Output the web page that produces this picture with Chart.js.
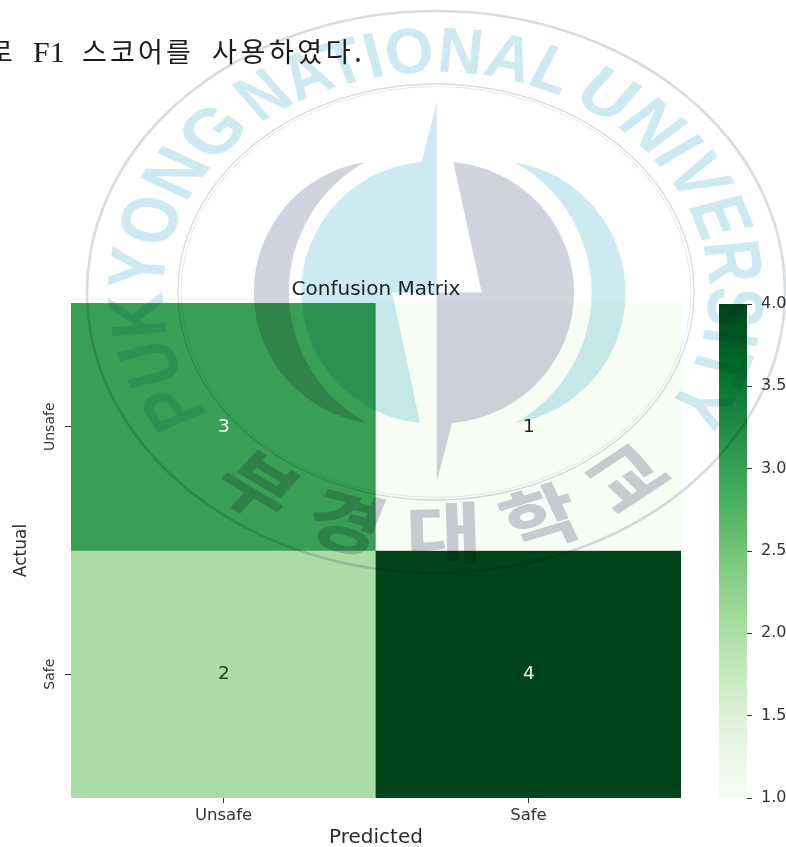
<!DOCTYPE html>
<html lang="ko"><head><meta charset="utf-8">
<style>
html,body{margin:0;padding:0;background:#fff;width:786px;height:847px;overflow:hidden}
#page{position:relative;width:786px;height:847px;overflow:hidden;isolation:isolate;background:#fff}
canvas{position:absolute}
#main{left:0;top:0}
#bar{left:700px;top:280px}
#wm{position:absolute;left:0;top:0;mix-blend-mode:multiply;pointer-events:none}
#line span{position:absolute;white-space:nowrap;top:35px;font:27px/32px "Noto Sans CJK KR";color:#1a1a1a}
#line span.f{font:30px/32px "Liberation Serif"}
</style></head>
<body><div id="page">
<canvas id="main" width="786" height="847"></canvas>
<canvas id="bar" width="86" height="540"></canvas>
<div id="line">
<span style="left:-12px">로</span><span class="f" style="left:33px;top:36px">F1</span>
<span style="left:82px;letter-spacing:3.2px">스코어를</span><span style="left:212px;letter-spacing:3.6px">사용하였다.</span>
</div>
<svg id="wm" width="786" height="847" xmlns="http://www.w3.org/2000/svg">
 <g fill="none" stroke="#d8dae4">
  <ellipse cx="436" cy="292" rx="349" ry="281" stroke-width="2.6"/>
  <ellipse cx="436" cy="292" rx="258" ry="208" stroke-width="1.3"/>
  <ellipse cx="436" cy="292" rx="255" ry="205.5" stroke-width=".6"/>
 </g>
 <path fill="#cdeaf2" d="M436.7,103 L436.7,292.5 L392,292.5 L420,423 A131,131 0 0 1 421.7,162 Z"/>
 <path fill="#d1d3de" d="M453.3,162 A133,131 0 0 1 452,423 L436.7,482 L436.7,292.5 L481.7,292.5 Z"/>
 <path fill="#d1d3de" d="M365,162 A132,132 0 0 0 367,423 A149,149 0 0 1 365,162 Z"/>
 <path fill="#cdeaf2" d="M515,162.5 A132,132 0 0 1 515,423 A149,149 0 0 0 515,162.5 Z"/>
 <g id="arcs" transform="translate(436 292) scale(1.24 1)"></g>
</svg>
</div>
<script src="https://cdn.jsdelivr.net/npm/chart.js@4"></script>
<script>
const predictedLabels = ['Unsafe','Safe'];
const actualLabels = ['Unsafe','Safe'];
const rowUnsafe = [3,1];
const rowSafe = [2,4];
const cellColorsUnsafe = ['#389f55','#f7fcf5'];
const cellColorsSafe = ['#abdca6','#00441b'];
const textColorsUnsafe = ['#f1faee','#262626'];
const textColorsSafe = ['#1f4a24','#e6f5e1'];
const cellSpan = [1,1];
const colorTicks = [1.0,1.5,2.0,2.5,3.0,3.5,4.0];
const colorRange = [1,4];
const greens = ['#f7fcf5','#e5f5e0','#c7e9c0','#a1d99b','#74c476','#41ab5d','#238b45','#006d2c','#00441b'];
const titleText = 'Confusion Matrix';
const xTitle = 'Predicted';
const yTitle = 'Actual';

const F = '"DejaVu Sans"';

const cellValues = {
  id:'cellValues',
  afterDatasetsDraw(chart){
    const c = chart.ctx; c.save();
    c.font = '18.5px '+F; c.textAlign='center'; c.textBaseline='middle';
    [[rowUnsafe,textColorsUnsafe],[rowSafe,textColorsSafe]].forEach((r,i)=>{
      chart.getDatasetMeta(i).data.forEach((el,j)=>{
        const p = el.getProps(['x','y','base'],true);
        c.fillStyle = r[1][j];
        c.fillText(String(r[0][j]), p.x+0.5, (p.y+p.base)/2);
      });
    });
    c.restore();
  }
};

new Chart(document.getElementById('main'),{
  type:'bar',
  data:{labels:predictedLabels,datasets:[
    {label:actualLabels[0],data:cellSpan,backgroundColor:cellColorsUnsafe,values:rowUnsafe,barPercentage:1,categoryPercentage:1},
    {label:actualLabels[1],data:cellSpan,backgroundColor:cellColorsSafe,values:rowSafe,barPercentage:1,categoryPercentage:1}
  ]},
  options:{
    responsive:false,animation:false,
    layout:{padding:{left:0,right:105,top:278,bottom:0}},
    plugins:{
      legend:{display:false},tooltip:{enabled:false},
      title:{display:true,fullSize:false,text:titleText,color:'#262626',font:{family:F,size:20,weight:'normal',lineHeight:1.2},padding:{top:0,bottom:1}}
    },
    scales:{
      x:{
        stacked:true,
        grid:{offset:false,drawOnChartArea:false,drawTicks:true,tickLength:5,tickColor:'#333'},border:{display:false},
        ticks:{color:'#333',font:{family:F,size:16.5},padding:3,maxRotation:0},
        title:{display:true,text:xTitle,color:'#2b2b2b',font:{family:F,size:20},padding:{top:0,bottom:-3}},
        afterFit(s){s.height=49;}
      },
      y:{
        stacked:true,reverse:true,min:0,max:2,
        grid:{drawOnChartArea:false,drawTicks:true,tickLength:6,tickColor:'#333'},border:{display:false},
        afterBuildTicks(s){s.ticks=[{value:.5},{value:1.5}];},
        ticks:{color:'#333',font:{family:F,size:14},minRotation:90,maxRotation:90,padding:-10,crossAlign:'center',
          callback:(v)=>actualLabels[Math.floor(v)]},
        title:{display:true,text:yTitle,color:'#2b2b2b',font:{family:F,size:17},padding:{top:11,bottom:0}},
        afterFit(s){s.width=71;}
      }
    }
  },
  plugins:[cellValues]
});

new Chart(document.getElementById('bar'),{
  type:'bar',
  data:{labels:[''],datasets:[{data:[colorRange],barPercentage:1,categoryPercentage:1,
    backgroundColor(ctx){
      const a=ctx.chart.chartArea; if(!a) return greens[4];
      const g=ctx.chart.ctx.createLinearGradient(0,a.bottom,0,a.top);
      greens.forEach((col,i)=>g.addColorStop(i/(greens.length-1),col));
      return g;
    }}]},
  options:{
    responsive:false,animation:false,
    layout:{padding:{left:19,right:0,top:24,bottom:22}},
    plugins:{legend:{display:false},tooltip:{enabled:false}},
    scales:{
      x:{display:false},
      y:{position:'right',min:colorRange[0],max:colorRange[1],
        grid:{drawOnChartArea:false,drawTicks:true,tickLength:5,tickColor:'#333'},border:{display:false},
        afterBuildTicks(s){s.ticks=colorTicks.map(v=>({value:v}));},
        ticks:{color:'#333',font:{family:F,size:16},padding:9,callback:v=>v.toFixed(1)},
        afterFit(s){s.width=39;}
      }
    }
  }
});

// watermark lettering along its two rings
const NS='http://www.w3.org/2000/svg';
const arcs=document.getElementById('arcs');
const defs=document.createElementNS(NS,'defs');arcs.appendChild(defs);
function pt(r,deg){const a=deg*Math.PI/180;return [r*Math.sin(a),-r*Math.cos(a)];}
function ringText(id,str,r,from,to,sweep,attrs){
  const p=document.createElementNS(NS,'path');p.id=id;
  const [x0,y0]=pt(r,from),[x1,y1]=pt(r,to);
  const large=Math.abs(to-from)>180?1:0;
  p.setAttribute('d',`M${x0},${y0} A${r},${r} 0 ${large} ${sweep} ${x1},${y1}`);
  defs.appendChild(p);
  const t=document.createElementNS(NS,'text');
  Object.entries(attrs).forEach(([k,v])=>t.setAttribute(k,v));
  const len=Math.abs(to-from)*Math.PI/180*r;
  t.setAttribute('textLength',len);
  const tp=document.createElementNS(NS,'textPath');
  tp.setAttribute('href','#'+id);tp.textContent=str;
  t.appendChild(tp);arcs.appendChild(t);
}
const latin={fill:'#cdeaf2','font-family':'Liberation Sans','font-weight':'bold','font-size':64,lengthAdjust:'spacingAndGlyphs'};
ringText('a1','PUKYONG',220,-124,-42,1,latin);
ringText('a2','NATIONAL',220,-40,27,1,latin);
ringText('a3','UNIVERSITY',220,29.5,123,1,latin);
ringText('a4','부경대학교',266,223,134,0,{fill:'#cbcfd9',stroke:'#cbcfd9','stroke-width':1,'font-family':'Noto Sans CJK KR','font-weight':'bold','font-size':66,lengthAdjust:'spacing'});
</script>
</body></html>
